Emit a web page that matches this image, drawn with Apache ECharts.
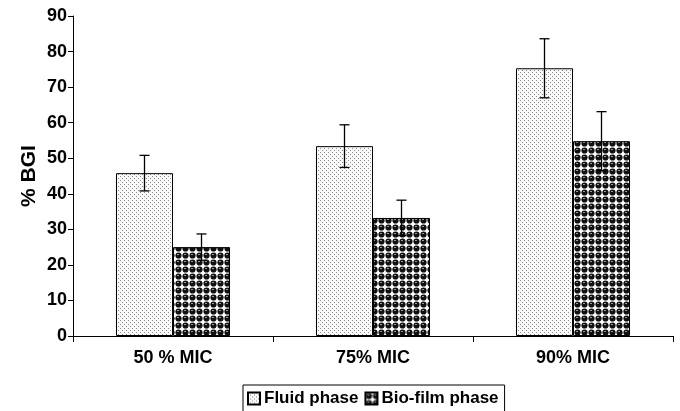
<!DOCTYPE html>
<html>
<head>
<meta charset="utf-8">
<script src="https://cdn.jsdelivr.net/npm/echarts@6/dist/echarts.min.js"></script>
<style>
  html, body { margin: 0; padding: 0; background: #fff; }
  #chart { width: 680px; height: 411px; }
</style>
</head>
<body>
<div id="chart"></div>
<script>
var categories = ['50 % MIC', '75% MIC', '90% MIC'];
var fluidValues = [45.8, 53.4, 75.3];
var fluidErrors = [5.0, 6.0, 8.3];
var biofilmValues = [25.0, 33.2, 54.8];
var biofilmErrors = [3.7, 5.0, 8.3];
var yTicks = [0, 10, 20, 30, 40, 50, 60, 70, 80, 90];

// fill patterns for the bars
function dotPattern() {
    var c = document.createElement('canvas');
    c.width = 4; c.height = 4;
    var ctx = c.getContext('2d');
    ctx.fillStyle = '#fafafa';
    ctx.fillRect(0, 0, 4, 4);
    ctx.fillStyle = '#8a8a8a';
    ctx.fillRect(0, 0, 1, 1);
    ctx.fillRect(2, 2, 1, 1);
    return c;
}
function ballPattern() {
    var c = document.createElement('canvas');
    c.width = 7; c.height = 7;
    var ctx = c.getContext('2d');
    ctx.fillStyle = '#ffffff';
    ctx.fillRect(0, 0, 7, 7);
    ctx.fillStyle = '#111';
    ctx.beginPath();
    ctx.arc(3.5, 3.5, 3.1, 0, Math.PI * 2);
    ctx.fill();
    ctx.fillStyle = '#999';
    ctx.fillRect(2, 2, 2, 1);
    return c;
}

var BAR_RATIO = 0.285;

function errorData(values, errors) {
    return values.map(function (v, i) { return [i, v - errors[i], v + errors[i]]; });
}

function errorSeries(name, values, errors, side) {
    return {
        type: 'custom',
        name: name + ' err',
        z: 10,
        silent: true,
        data: errorData(values, errors),
        renderItem: function (params, api) {
            var catW = api.size([1, 0])[0];
            var off = side * catW * BAR_RATIO / 2;
            var lo = api.coord([api.value(0), api.value(1)]);
            var hi = api.coord([api.value(0), api.value(2)]);
            var x = lo[0] + off;
            var cap = 5;
            var style = { stroke: '#000', lineWidth: 1.3 };
            return {
                type: 'group',
                children: [
                    { type: 'line', shape: { x1: x, y1: lo[1], x2: x, y2: hi[1] }, style: style },
                    { type: 'line', shape: { x1: x - cap, y1: hi[1], x2: x + cap, y2: hi[1] }, style: style },
                    { type: 'line', shape: { x1: x - cap, y1: lo[1], x2: x + cap, y2: lo[1] }, style: style }
                ]
            };
        }
    };
}

var myChart = echarts.init(document.getElementById('chart'));
var font = 'Liberation Sans, Arial, sans-serif';

var option = {
    animation: false,
    textStyle: { fontFamily: font },
    grid: { left: 73, right: 7, top: 16, bottom: 75 },
    legend: {
        data: ['Fluid phase', 'Bio-film phase'],
        icon: 'rect',
        bottom: -6,
        left: 243,
        itemWidth: 12,
        itemHeight: 12,
        itemGap: 6,
        padding: [5, 6, 10, 4],
        borderColor: '#000',
        borderWidth: 1,
        textStyle: { fontFamily: font, fontWeight: 'bold', fontSize: 17, color: '#000', padding: [0, 0, 0, -1] }
    },
    xAxis: {
        type: 'category',
        data: categories,
        axisLine: { lineStyle: { color: '#000', width: 1 } },
        axisTick: { show: true, length: 6, lineStyle: { color: '#000' } },
        axisLabel: { color: '#000', fontWeight: 'bold', fontSize: 18, margin: 13 }
    },
    yAxis: {
        type: 'value',
        min: 0,
        max: 90,
        interval: 10,
        name: '% BGI',
        nameLocation: 'middle',
        nameGap: 33,
        nameMoveOverlap: false,
        nameTextStyle: { color: '#000', fontWeight: 'bold', fontSize: 21 },
        axisLine: { show: true, lineStyle: { color: '#000', width: 1 } },
        axisTick: { show: true, length: 5, lineStyle: { color: '#000' } },
        axisLabel: {
            color: '#000', fontWeight: 'bold', fontSize: 18, margin: 6,
            formatter: function (v) { return yTicks.indexOf(v) >= 0 ? String(v) : ''; }
        },
        splitLine: { show: false }
    },
    series: [
        {
            name: 'Fluid phase',
            type: 'bar',
            barWidth: (BAR_RATIO * 100) + '%',
            barGap: 0,
            data: fluidValues,
            itemStyle: {
                color: { image: dotPattern(), repeat: 'repeat' },
                borderColor: '#000',
                borderWidth: 1
            }
        },
        {
            name: 'Bio-film phase',
            type: 'bar',
            barWidth: (BAR_RATIO * 100) + '%',
            barGap: 0,
            data: biofilmValues,
            itemStyle: {
                color: { image: ballPattern(), repeat: 'repeat' },
                borderColor: '#000',
                borderWidth: 1
            }
        },
        errorSeries('Fluid phase', fluidValues, fluidErrors, -1),
        errorSeries('Bio-film phase', biofilmValues, biofilmErrors, 1)
    ]
};
myChart.setOption(option);
</script>
</body>
</html>
